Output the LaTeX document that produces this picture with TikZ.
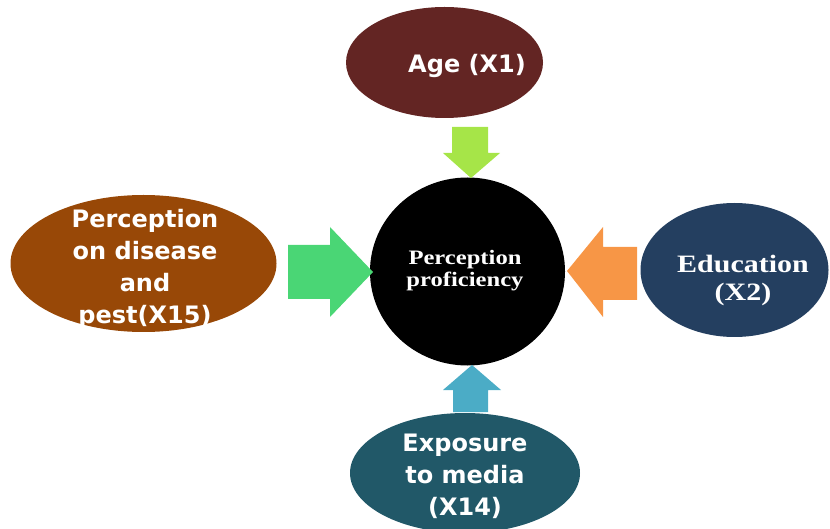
\documentclass[tikz,border=0pt]{standalone}
\usepackage{fontspec}
\usetikzlibrary{shapes.geometric}
\newfontfamily\comicfont{DejaVu Sans}
\newfontfamily\timesfont[FakeStretch=1.2]{Liberation Serif}
\definecolor{agecol}{HTML}{632523}
\definecolor{percol}{HTML}{984807}
\definecolor{educol}{HTML}{243F60}
\definecolor{expcol}{HTML}{215868}
\definecolor{arrtop}{HTML}{A6E548}
\definecolor{arrleft}{HTML}{4AD675}
\definecolor{arrright}{HTML}{F79646}
\definecolor{arrbot}{HTML}{4BACC6}
\tikzset{
  blob/.style={ellipse, inner sep=0pt, draw=none},
  comictext/.style={text=white, align=center, font=\comicfont\bfseries\fontsize{24}{32}\selectfont},
  timestext/.style={text=white, align=center, font=\timesfont\bfseries},
}
\begin{document}
\begin{tikzpicture}[x=1pt,y=-1pt]
\useasboundingbox (0,0) rectangle (830,529);
\clip (0,0) rectangle (830,529);
% ellipses
\node[blob, fill=agecol, minimum width=197pt, minimum height=111pt] (age) at (444.5,62.5) {};
\node[blob, fill=percol, minimum width=266pt, minimum height=137pt] (perc) at (143.5,263.5) {};
\node[blob, fill=educol, minimum width=188pt, minimum height=134pt] (edu) at (734.5,270) {};
\node[blob, fill=expcol, minimum width=230pt, minimum height=120pt] (expo) at (465,473) {};
\node[blob, fill=black, minimum width=195pt, minimum height=188pt] (core) at (467.5,271.5) {};
% texts
\node[comictext] (agetxt) at (467,66) {Age (X1)};
\node[comictext] (perctxt) at (145,269) {Perception\\on disease\\and\\pest(X15)};
\node[comictext] (expotxt) at (465,476) {Exposure\\to media\\(X14)};
\node[timestext, font=\timesfont\bfseries\fontsize{20.5}{22}\selectfont] (coretxt) at (465,271) {Perception\\proficiency};
\node[timestext, font=\timesfont\bfseries\fontsize{25}{28}\selectfont] (edutxt) at (743,280) {Education\\(X2)};
% block arrows
\fill[arrtop] (452,127) -- (488,127) -- (488,153) -- (500,153) -- (471,178) -- (443,153) -- (452,153) -- cycle;
\fill[arrleft] (288,245) -- (330,245) -- (330,227) -- (373,272) -- (330,317) -- (330,299) -- (288,299) -- cycle;
\fill[arrright] (637,247) -- (603,247) -- (603,227) -- (567,271) -- (603,317) -- (603,300) -- (637,300) -- cycle;
\fill[arrbot] (453,412) -- (453,390) -- (443,390) -- (472,365) -- (501,390) -- (488,390) -- (488,412) -- cycle;
\end{tikzpicture}
\end{document}
